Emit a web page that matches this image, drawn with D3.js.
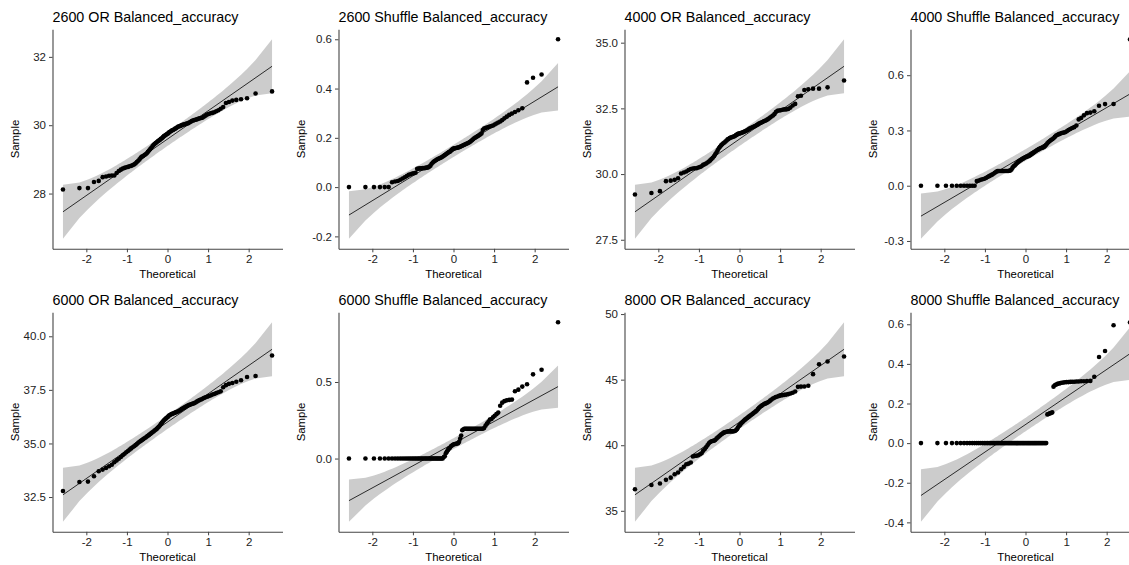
<!DOCTYPE html>
<html><head><meta charset="utf-8">
<script src="https://cdn.jsdelivr.net/npm/d3@7"></script>
<style>
body{margin:0;background:#fff;}
text{font-family:"Liberation Sans",Arial,Helvetica,sans-serif;}
</style>
</head><body>
<svg id="chart" width="1129" height="565"></svg>
<script>
// Theoretical normal quantiles (n = 100)
const theoretical = [
-2.576,-2.170,-1.960,-1.812,-1.695,-1.598,-1.514,-1.440,-1.372,-1.311,
-1.254,-1.200,-1.150,-1.103,-1.058,-1.015,-0.974,-0.935,-0.896,-0.860,
-0.824,-0.789,-0.755,-0.722,-0.690,-0.659,-0.628,-0.598,-0.568,-0.539,
-0.510,-0.482,-0.454,-0.426,-0.399,-0.372,-0.345,-0.319,-0.292,-0.266,
-0.240,-0.215,-0.189,-0.164,-0.138,-0.113,-0.088,-0.063,-0.038,-0.013,
0.013,0.038,0.063,0.088,0.113,0.138,0.164,0.189,0.215,0.240,
0.266,0.292,0.319,0.345,0.372,0.399,0.426,0.454,0.482,0.510,
0.539,0.568,0.598,0.628,0.659,0.690,0.722,0.755,0.789,0.824,
0.860,0.896,0.935,0.974,1.015,1.058,1.103,1.150,1.200,1.254,
1.311,1.372,1.440,1.514,1.598,1.695,1.812,1.960,2.170,2.576];

const or2600 = [
28.12,28.16,28.16,28.34,28.37,28.48,28.50,28.52,28.53,28.53,
28.60,28.66,28.70,28.73,28.75,28.77,28.78,28.80,28.81,28.83,
28.85,28.88,28.92,28.96,29.00,29.05,29.08,29.10,29.13,29.15,
29.18,29.22,29.26,29.30,29.34,29.38,29.42,29.45,29.48,29.50,
29.53,29.55,29.57,29.60,29.62,29.65,29.68,29.70,29.72,29.74,
29.76,29.79,29.81,29.83,29.85,29.86,29.88,29.90,29.92,29.94,
29.96,29.97,29.98,30.00,30.01,30.02,30.03,30.04,30.05,30.06,
30.08,30.10,30.12,30.14,30.15,30.16,30.17,30.19,30.20,30.21,
30.22,30.25,30.28,30.31,30.33,30.35,30.36,30.38,30.41,30.44,
30.48,30.53,30.65,30.68,30.72,30.74,30.76,30.79,30.93,30.99];

const shuffle2600 = [
0,0,0,0,0,0,0.020,0.023,0.025,0.030,
0.035,0.040,0.045,0.050,0.052,0.055,0.056,0.058,0.074,0.075,
0.076,0.076,0.077,0.077,0.078,0.079,0.080,0.083,0.087,0.095,
0.100,0.104,0.107,0.110,0.113,0.115,0.117,0.119,0.121,0.124,
0.127,0.130,0.133,0.136,0.139,0.142,0.144,0.148,0.152,0.155,
0.157,0.158,0.159,0.160,0.161,0.162,0.164,0.166,0.168,0.170,
0.172,0.174,0.176,0.178,0.180,0.183,0.186,0.190,0.194,0.198,
0.201,0.204,0.207,0.210,0.214,0.218,0.232,0.238,0.240,0.242,
0.244,0.246,0.248,0.250,0.254,0.258,0.262,0.266,0.272,0.279,
0.286,0.293,0.299,0.305,0.312,0.320,0.425,0.444,0.457,0.600];

const or4000 = [
29.22,29.28,29.35,29.73,29.75,29.78,29.84,30.02,30.06,30.10,
30.15,30.19,30.21,30.22,30.22,30.25,30.27,30.30,30.35,30.37,
30.40,30.44,30.48,30.52,30.57,30.62,30.68,30.75,30.82,30.90,
30.98,31.04,31.09,31.13,31.17,31.20,31.24,31.28,31.32,31.34,
31.37,31.39,31.40,31.42,31.43,31.45,31.48,31.50,31.53,31.54,
31.55,31.56,31.58,31.59,31.61,31.63,31.65,31.67,31.69,31.72,
31.74,31.76,31.78,31.80,31.82,31.84,31.87,31.89,31.92,31.94,
31.96,31.98,32.01,32.03,32.05,32.08,32.11,32.15,32.19,32.23,
32.28,32.36,32.41,32.42,32.43,32.45,32.46,32.46,32.48,32.53,
32.61,32.67,32.96,32.98,33.20,33.23,33.25,33.25,33.30,33.56];

const shuffle4000 = [
0,0,0,0,0,0,0,0,0,0,
0,0.025,0.028,0.032,0.035,0.038,0.042,0.047,0.052,0.056,
0.060,0.065,0.070,0.076,0.079,0.080,0.080,0.080,0.080,0.080,
0.080,0.080,0.080,0.080,0.081,0.083,0.088,0.098,0.105,0.110,
0.116,0.122,0.128,0.132,0.136,0.140,0.143,0.147,0.150,0.153,
0.156,0.158,0.160,0.162,0.166,0.170,0.174,0.178,0.182,0.186,
0.190,0.194,0.197,0.200,0.203,0.205,0.207,0.210,0.215,0.222,
0.230,0.237,0.243,0.248,0.252,0.258,0.265,0.272,0.277,0.280,
0.283,0.286,0.288,0.290,0.295,0.302,0.308,0.313,0.318,0.327,
0.360,0.368,0.382,0.394,0.397,0.404,0.434,0.443,0.444,0.795];

const or6000 = [
32.78,33.20,33.22,33.47,33.70,33.78,33.86,33.94,34.01,34.12,
34.21,34.29,34.37,34.45,34.52,34.59,34.65,34.71,34.77,34.82,
34.87,34.92,34.97,35.03,35.08,35.12,35.16,35.20,35.24,35.28,
35.32,35.36,35.40,35.44,35.48,35.52,35.56,35.60,35.64,35.68,
35.73,35.78,35.84,35.90,35.96,36.02,36.08,36.13,36.17,36.21,
36.25,36.30,36.33,36.36,36.38,36.40,36.42,36.44,36.46,36.48,
36.50,36.53,36.56,36.60,36.63,36.66,36.69,36.72,36.75,36.78,
36.80,36.82,36.84,36.86,36.88,36.91,36.95,36.99,37.02,37.05,
37.08,37.12,37.15,37.18,37.21,37.24,37.28,37.31,37.35,37.39,
37.43,37.62,37.72,37.78,37.82,37.88,37.95,38.10,38.15,39.10];

const shuffle6000 = [
0,0,0,0,0,0,0,0,0,0,
0,0,0,0,0,0,0,0,0,0,
0,0,0,0,0,0,0,0,0,0,
0,0,0,0,0,0,0,0,0,0,
0.010,0.015,0.035,0.045,0.055,0.065,0.070,0.080,0.085,0.090,
0.093,0.095,0.096,0.098,0.100,0.110,0.130,0.150,0.185,0.190,
0.195,0.195,0.195,0.195,0.195,0.195,0.195,0.195,0.195,0.195,
0.195,0.195,0.195,0.195,0.195,0.195,0.195,0.200,0.215,0.228,
0.240,0.255,0.258,0.270,0.280,0.290,0.300,0.345,0.365,0.375,
0.380,0.383,0.385,0.440,0.450,0.470,0.485,0.550,0.580,0.890];

const or8000 = [
36.64,36.97,37.08,37.36,37.53,37.79,37.92,38.17,38.35,38.55,
38.60,38.68,39.14,39.19,39.20,39.24,39.31,39.39,39.57,39.69,
39.85,40.00,40.15,40.25,40.30,40.32,40.35,40.40,40.50,40.58,
40.66,40.74,40.81,40.88,40.94,40.98,41.01,41.03,41.05,41.06,
41.06,41.06,41.06,41.06,41.07,41.09,41.14,41.22,41.35,41.47,
41.55,41.65,41.73,41.80,41.88,41.95,42.02,42.08,42.14,42.20,
42.26,42.32,42.38,42.45,42.52,42.58,42.65,42.75,42.85,42.93,
43.00,43.06,43.12,43.17,43.21,43.25,43.32,43.40,43.48,43.56,
43.62,43.68,43.72,43.76,43.80,43.82,43.84,43.86,43.90,43.94,
44.00,44.10,44.45,44.47,44.48,44.53,45.42,46.18,46.38,46.76];

const shuffle8000 = [
0,0,0,0,0,0,0,0,0,0,
0,0,0,0,0,0,0,0,0,0,
0,0,0,0,0,0,0,0,0,0,
0,0,0,0,0,0,0,0,0,0,
0,0,0,0,0,0,0,0,0,0,
0,0,0,0,0,0,0,0,0,0,
0,0,0,0,0,0,0,0,0,0,
0.145,0.147,0.150,0.152,0.155,0.285,0.292,0.296,0.299,0.301,
0.303,0.305,0.306,0.307,0.308,0.308,0.309,0.310,0.310,0.311,
0.311,0.312,0.312,0.313,0.314,0.335,0.435,0.465,0.595,0.610];

const panelTitles = [
  "2600 OR Balanced_accuracy","2600 Shuffle Balanced_accuracy",
  "4000 OR Balanced_accuracy","4000 Shuffle Balanced_accuracy",
  "6000 OR Balanced_accuracy","6000 Shuffle Balanced_accuracy",
  "8000 OR Balanced_accuracy","8000 Shuffle Balanced_accuracy"];
const panelSamples = [or2600, shuffle2600, or4000, shuffle4000, or6000, shuffle6000, or8000, shuffle8000];
const yTickValues = [
  [28,30,32],[-0.2,0,0.2,0.4,0.6],[27.5,30,32.5,35],[-0.3,0,0.3,0.6],
  [32.5,35,37.5,40],[0,0.5],[35,40,45,50],[-0.4,-0.2,0,0.2,0.4,0.6]];
const yTickFormats = ["d",".1f",".1f",".1f",".1f",".1f","d",".1f"];
const xTickValues = [-2,-1,0,1,2];
const xLabel = "Theoretical", yLabel = "Sample";

// layout
const colX0 = 52.5, colStep = 286, rowY0 = 29.3, rowStep = 283;
const pw = 230, ph = 219.5;
const tickFont = 11.5, titleFont = 14.3, axisTitleFont = 11.4;

const locale = d3.formatLocale({decimal:".", thousands:",", grouping:[3], currency:["",""], minus:"-"});
const svg = d3.select("#chart");

function expand(lo, hi){ const d=(hi-lo)*0.05; return [lo-d, hi+d]; }
function dnorm(z){ return Math.exp(-z*z/2)/Math.sqrt(2*Math.PI); }

panelSamples.forEach((sample, k) => {
  const col = k % 4, row = Math.floor(k/4);
  const g = svg.append("g").attr("transform", `translate(${colX0+col*colStep},${rowY0+row*rowStep})`);
  const n = sample.length;
  const sorted = sample.slice().sort(d3.ascending);
  const q1 = d3.quantile(sorted, 0.25), q3 = d3.quantile(sorted, 0.75);
  const zq = 0.6744898;
  const slope = (q3 - q1)/(2*zq);
  const intercept = q1 + slope*zq;
  const zz = 1.959964;
  const band = theoretical.map((z,i) => {
    const P = (i + 0.5)/n;
    const se = slope/dnorm(z)*Math.sqrt(P*(1-P)/n);
    const fit = intercept + slope*z;
    return {z, lo: fit - zz*se, hi: fit + zz*se, fit};
  });
  const xExt = d3.extent(theoretical);
  const x = d3.scaleLinear().domain(expand(xExt[0], xExt[1])).range([0, pw]);
  const yLo = Math.min(d3.min(sorted), d3.min(band, d=>d.lo));
  const yHi = Math.max(d3.max(sorted), d3.max(band, d=>d.hi));
  const y = d3.scaleLinear().domain(expand(yLo, yHi)).range([ph, 0]);

  g.append("path").datum(band)
    .attr("d", d3.area().x(d=>x(d.z)).y0(d=>y(d.lo)).y1(d=>y(d.hi)))
    .attr("fill", "#000").attr("fill-opacity", 0.2).attr("stroke","none");
  g.append("path").datum([band[0], band[n-1]])
    .attr("d", d3.line().x(d=>x(d.z)).y(d=>y(d.fit)))
    .attr("fill","none").attr("stroke","#000").attr("stroke-width",0.8);
  g.selectAll("circle").data(sorted).join("circle")
    .attr("cx",(d,i)=>x(theoretical[i])).attr("cy",d=>y(d))
    .attr("r",2.3).attr("fill","#000");

  const xa = g.append("g").attr("transform",`translate(0,${ph})`)
    .call(d3.axisBottom(x).tickValues(xTickValues).tickFormat(locale.format("d"))
      .tickSizeInner(3.5).tickSizeOuter(0).tickPadding(3));
  const ya = g.append("g")
    .call(d3.axisLeft(y).tickValues(yTickValues[k]).tickFormat(locale.format(yTickFormats[k]))
      .tickSizeInner(3.5).tickSizeOuter(0).tickPadding(3));
  [xa, ya].forEach(a => {
    a.select(".domain").attr("stroke","#444").attr("stroke-width",1.1);
    a.selectAll(".tick line").attr("stroke","#444").attr("stroke-width",1);
    a.selectAll(".tick text").attr("fill","#222").style("font-size", tickFont+"px")
      .style("font-family",'"Liberation Sans",Arial,sans-serif');
  });

  g.append("text").attr("x",0).attr("y",-7.8).attr("fill","#000")
    .style("font-size", titleFont+"px").text(panelTitles[k]);
  g.append("text").attr("x",pw/2).attr("y",ph+29.5).attr("text-anchor","middle")
    .attr("fill","#000").style("font-size", axisTitleFont+"px").text(xLabel);
  g.append("text").attr("transform",`translate(-34,${ph/2}) rotate(-90)`)
    .attr("text-anchor","middle").attr("fill","#000")
    .style("font-size", axisTitleFont+"px").text(yLabel);
});
</script>
</body></html>
